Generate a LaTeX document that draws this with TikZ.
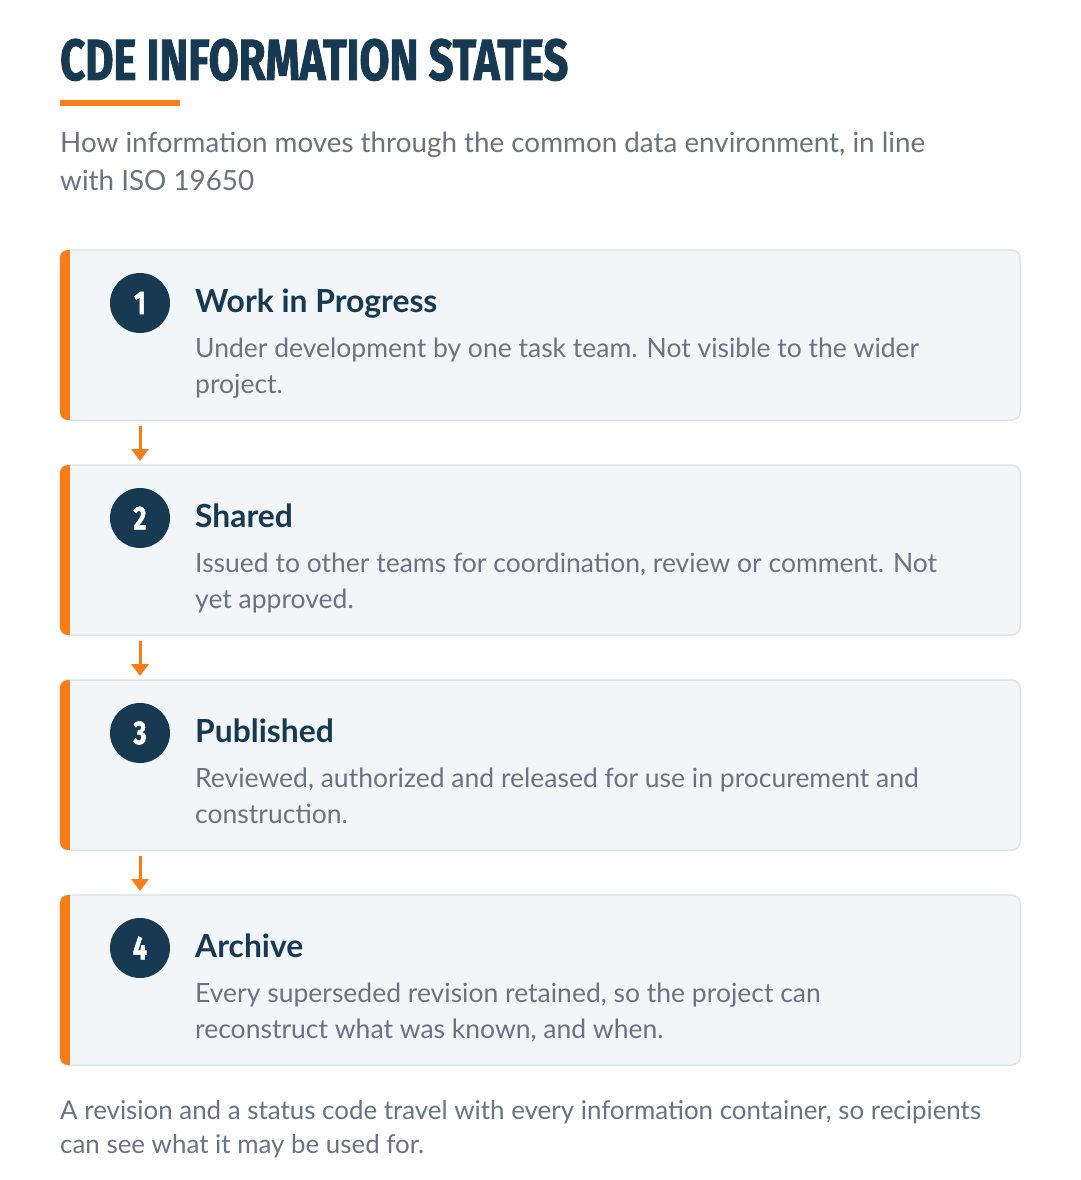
\documentclass[tikz,border=0pt]{standalone}
\usepackage{fontspec}
\setmainfont{Lato}
\newfontfamily\titlefont[FakeStretch=0.75,FakeBold=1.5]{Fira Sans}
\usetikzlibrary{positioning,arrows.meta}
\definecolor{navy}{HTML}{173A52}
\definecolor{accent}{HTML}{F97C16}
\definecolor{slate}{HTML}{6B7280}
\definecolor{cardfill}{HTML}{F2F6F9}
\definecolor{cardline}{HTML}{DCE4EC}

\begin{document}
\begin{tikzpicture}[x=1pt,y=1pt,
	card/.style={draw=cardline, line width=1.5pt, fill=cardfill, rounded corners=8pt, minimum width=960pt, minimum height=170pt, inner sep=0pt, outer sep=0pt},
	badge/.style={circle, fill=navy, minimum size=60pt, inner sep=0pt, text=white, font=\titlefont\bfseries\fontsize{33}{33}\selectfont},
	stage/.style={anchor=base west, inner sep=0pt, text=navy, font=\bfseries\fontsize{31.8}{36}\selectfont},
	blurb/.style={anchor=base west, inner sep=0pt, text=slate, align=left, font=\fontsize{26.5}{36}\selectfont},
	flow/.style={draw=accent, line width=3pt, -{Triangle[length=12pt,width=17pt]}}]
	\useasboundingbox[fill=white] (0,0) rectangle (1080,-1180);
	\node[anchor=base west, inner sep=0pt, text=navy, font=\titlefont\bfseries\fontsize{58}{58}\selectfont] (title) at (60,-80) {CDE INFORMATION STATES};
	\fill[accent] (60,-100) rectangle (180,-106);
	\node[anchor=base west, inner sep=0pt, text=slate, align=left, font=\fontsize{27.8}{38}\selectfont] (lead) at (60,-190) {How information moves through the common data environment, in line\\with ISO 19650};
	\node[card] (wip) at (540,-335) {};
	\begin{scope}
		\clip[rounded corners=8pt] (wip.south west) rectangle (wip.north east);
		\fill[accent] (wip.south west) rectangle ++(10,170);
	\end{scope}
	\node[badge] (n1) at ([xshift=80pt,yshift=-53pt]wip.north west) {1};
	\node[stage] (t1) at ([xshift=135pt,yshift=-62pt]wip.north west) {Work in Progress};
	\node[blurb] (d1) at ([xshift=135pt,yshift=-143pt]wip.north west) {Under development by one task team. Not visible to the wider\\project.};
	\node[card] (shared) at (540,-550) {};
	\begin{scope}
		\clip[rounded corners=8pt] (shared.south west) rectangle (shared.north east);
		\fill[accent] (shared.south west) rectangle ++(10,170);
	\end{scope}
	\node[badge] (n2) at ([xshift=80pt,yshift=-53pt]shared.north west) {2};
	\node[stage] (t2) at ([xshift=135pt,yshift=-62pt]shared.north west) {Shared};
	\node[blurb] (d2) at ([xshift=135pt,yshift=-143pt]shared.north west) {Issued to other teams for coordination, review or comment. Not\\yet approved.};
	\node[card] (published) at (540,-765) {};
	\begin{scope}
		\clip[rounded corners=8pt] (published.south west) rectangle (published.north east);
		\fill[accent] (published.south west) rectangle ++(10,170);
	\end{scope}
	\node[badge] (n3) at ([xshift=80pt,yshift=-53pt]published.north west) {3};
	\node[stage] (t3) at ([xshift=135pt,yshift=-62pt]published.north west) {Published};
	\node[blurb] (d3) at ([xshift=135pt,yshift=-143pt]published.north west) {Reviewed, authorized and released for use in procurement and\\construction.};
	\node[card] (archive) at (540,-980) {};
	\begin{scope}
		\clip[rounded corners=8pt] (archive.south west) rectangle (archive.north east);
		\fill[accent] (archive.south west) rectangle ++(10,170);
	\end{scope}
	\node[badge] (n4) at ([xshift=80pt,yshift=-53pt]archive.north west) {4};
	\node[stage] (t4) at ([xshift=135pt,yshift=-62pt]archive.north west) {Archive};
	\node[blurb] (d4) at ([xshift=135pt,yshift=-143pt]archive.north west) {Every superseded revision retained, so the project can\\reconstruct what was known, and when.};
	\draw[flow] ([yshift=-6pt]wip.south -| n1) -- ([yshift=4pt]shared.north -| n1);
	\draw[flow] ([yshift=-6pt]shared.south -| n2) -- ([yshift=4pt]published.north -| n2);
	\draw[flow] ([yshift=-6pt]published.south -| n3) -- ([yshift=4pt]archive.north -| n3);
	\node[anchor=base west, inner sep=0pt, text=slate, align=left, font=\fontsize{25.9}{34}\selectfont] (note) at (60,-1153) {A revision and a status code travel with every information container, so recipients\\can see what it may be used for.};
\end{tikzpicture}
\end{document}
